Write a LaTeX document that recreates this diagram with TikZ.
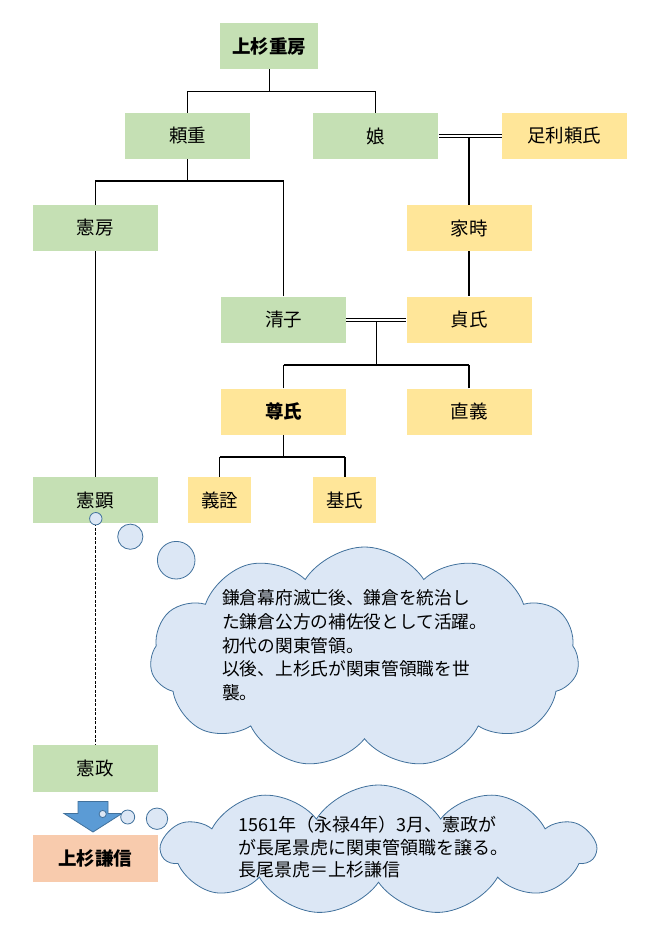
\documentclass[tikz,border=0pt]{standalone}
\usepackage{fontspec}
\setmainfont{Noto Sans CJK JP}
\usepackage{xcolor}
\usepackage{tikz}
\usetikzlibrary{positioning,calc,shapes.symbols}
\definecolor{kgreen}{HTML}{C5E0B4}
\definecolor{kyellow}{HTML}{FFE699}
\definecolor{ksalmon}{HTML}{F8CBAD}
\definecolor{kumofill}{HTML}{DCE7F5}
\definecolor{kumoline}{HTML}{41719C}
\definecolor{yajiblue}{HTML}{5B9BD5}

\begin{document}
\begin{tikzpicture}[
  x=1pt, y=-1pt,
  node distance=45pt and 63pt,
  box/.style={rectangle,inner sep=0pt,minimum width=125pt,minimum height=46.5pt,
              font=\fontsize{18.5}{22}\selectfont},
  gbox/.style={box,fill=kgreen},
  ybox/.style={box,fill=kyellow},
  hbox/.style={font=\fontsize{18.5}{22}\selectfont\bfseries},
  thin link/.style={line width=0.9pt},
  thick link/.style={line width=2pt},
  wed/.style={double,double distance=2pt,line width=0.9pt},
  bub/.style={draw=kumoline,fill=kumofill,line width=0.8pt},
  kumo/.style={bub,cloud,cloud puffs=11,cloud puff arc=115,cloud ignores aspect,inner sep=0pt},
  memo/.style={align=left,inner sep=0pt,anchor=west}
]
\useasboundingbox (0,0) rectangle (658,951);

% boxes
\node[gbox,hbox,minimum width=98pt] (shigefusa) at (269,46) {上杉重房};
\node[gbox] (yorishige) at (187.5,136) {頼重};
\node[gbox,right=of yorishige] (musume) {娘};
\node[ybox,right=of musume] (yoriuji) {足利頼氏};
\node[gbox] (norifusa) at (95,228) {憲房};
\node[ybox] (ietoki) at (469,228) {家時};
\node[ybox,below=of ietoki] (sadauji) {貞氏};
\node[gbox,left=60pt of sadauji] (kiyoko) {清子};
\node[ybox,below=of sadauji] (tadayoshi) {直義};
\node[ybox,hbox,below=of kiyoko] (takauji) {尊氏};
\node[gbox] (noriaki) at (95,500) {憲顕};
\node[ybox,minimum width=63pt] (yoshiakira) at (219.5,500) {義詮};
\node[ybox,minimum width=63pt] (motouji) at (344.5,500) {基氏};
\node[gbox] (norimasa) at (95,768.5) {憲政};
\node[box,hbox,fill=ksalmon] (kenshin) at (95,858.5) {上杉謙信};

% family lines
\draw[thin link] (shigefusa.south) -- ++(0,21.5) coordinate (j1);
\draw[thin link] (yorishige.north) |- (j1) -| (musume.north);
\draw[thin link] (yorishige.south) -- ++(0,22) coordinate (j2);
\draw[thick link] (norifusa.north |- j2) -- (kiyoko.north |- j2);
\draw[thin link] (norifusa.north) -- (norifusa.north |- j2);
\draw[thin link] (kiyoko.north) -- (kiyoko.north |- j2);
\draw[thick link] (ietoki.north) -- (ietoki.north |- musume.east);
\draw[wed] (musume.east) -- (yoriuji.west);
\draw[thick link] (ietoki) -- (sadauji);
\coordinate (jm) at ($(kiyoko.east)!0.5!(sadauji.west)$);
\draw[thin link] (jm) -- ++(0,45) coordinate (j3);
\draw[wed] (kiyoko.east) -- (sadauji.west);
\draw[thick link] (takauji.north |- j3) -- (tadayoshi.north |- j3);
\draw[thin link] (takauji.north) -- (takauji.north |- j3);
\draw[thick link] (tadayoshi.north) -- (tadayoshi.north |- j3);
\draw[thin link] (takauji.south) -- ++(0,22) coordinate (j4);
\draw[thick link] (yoshiakira.north |- j4) -- (motouji.north |- j4);
\draw[thin link] (yoshiakira.north) -- (yoshiakira.north |- j4);
\draw[thick link] (motouji.north) -- (motouji.north |- j4);
\draw[thin link] (norifusa) -- (noriaki);
\draw[line width=0.8pt,dash pattern=on 3pt off 1.5pt] (noriaki.south) -- (norimasa.north);

% arrow to Kenshin
\draw[fill=yajiblue,draw=kumoline,line width=0.8pt,line join=miter]
  (78,801.5) -- (108,801.5) -- (108,813.5) -- (122,813.5) -- (93,832)
  -- (64,813.5) -- (78,813.5) -- cycle;

% thought bubbles
\draw[bub] (95.8,518.7) circle[radius=6.2];
\draw[bub] (130.3,536.7) circle[radius=12.6];
\draw[bub] (176.2,560.2) circle[radius=18.8];
\node[kumo,minimum width=429pt,minimum height=221pt] (kumo1) at (364.5,657.5) {};
\node[memo,font=\fontsize{17.7}{23.7}\selectfont] (memo1) at (222,645.5)
  {鎌倉幕府滅亡後、鎌倉を統治し\\た鎌倉公方の補佐役として活躍。\\初代の関東管領。\\以後、上杉氏が関東管領職を世\\襲。};

\draw[bub] (102.7,814) circle[radius=3.6];
\draw[bub] (127.7,817) circle[radius=7];
\draw[bub] (157,818.7) circle[radius=10.7];
\node[kumo,minimum width=433pt,minimum height=130pt] (kumo2) at (378.5,850) {};
\node[memo,font=\fontsize{18}{22.5}\selectfont] (memo2) at (238,847.5)
  {1561年（永禄4年）3月、憲政が\\が長尾景虎に関東管領職を譲る。\\長尾景虎＝上杉謙信};
\end{tikzpicture}
\end{document}
